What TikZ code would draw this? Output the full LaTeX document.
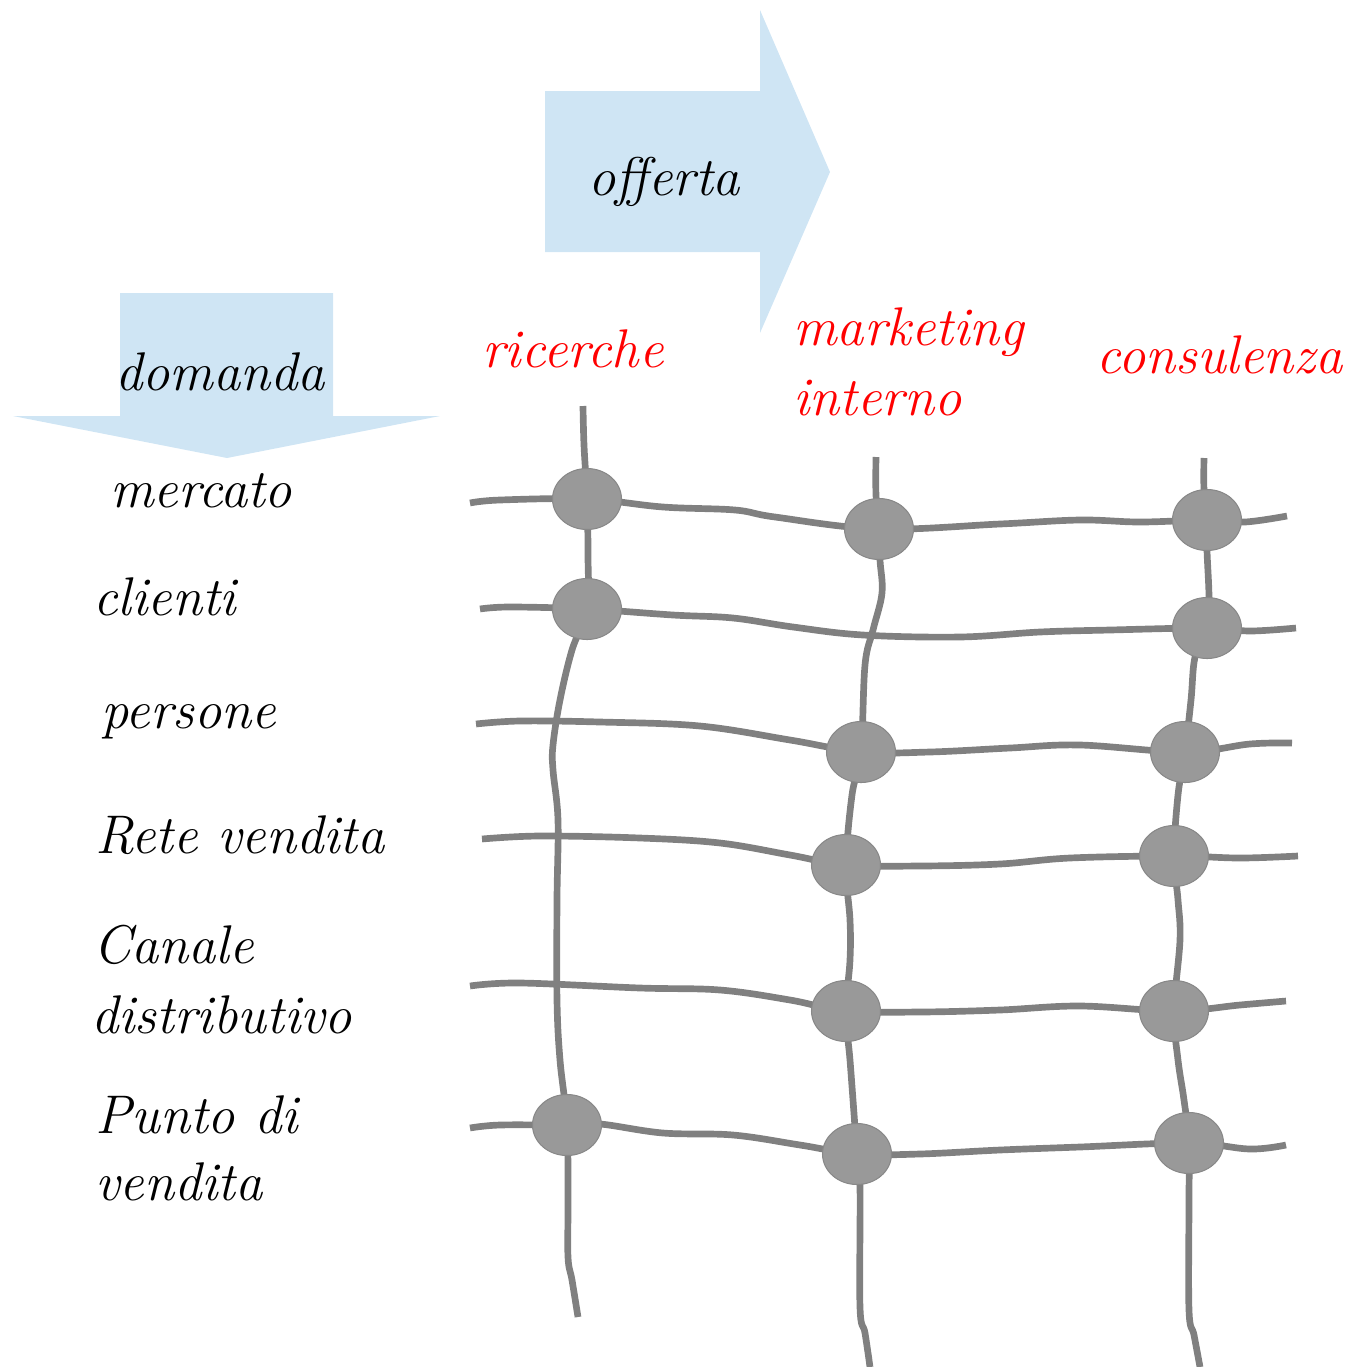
\documentclass[tikz,border=0pt]{standalone}
\usepackage{xcolor}
\usepackage{tikz}
\usetikzlibrary{shapes.geometric,backgrounds}
\definecolor{paleblue}{HTML}{CFE5F4}
\definecolor{wiregray}{HTML}{808080}
\definecolor{knotgray}{HTML}{999999}
\definecolor{knotrim}{HTML}{888888}

\begin{document}
\begin{tikzpicture}[x=0.02cm,y=-0.02cm,
  hand/.style={font=\fontsize{31}{37}\selectfont\itshape,inner sep=0pt,anchor=base west},
  colhead/.style={hand,text=red},
  wire/.style={draw=wiregray,line width=3.8pt},
  knot/.style={ellipse,fill=knotgray,draw=knotrim,line width=0.6pt,
    minimum width=1.38cm,minimum height=1.22cm,inner sep=0pt}]
\useasboundingbox (0,0) rectangle (1357,1367);
% the two big arrows
\fill[paleblue] (545,91)--(760,91)--(760,10)--(830,172)--(760,333)--(760,252)--(545,252)--cycle;
\fill[paleblue] (120,293)--(333,293)--(333,416)--(440,416)--(227,458)--(13,416)--(120,416)--cycle;
\node[hand] (offerta) at (588,195) {offerta};
\node[hand] (domanda) at (115,390) {domanda};
% column heads
\node[colhead] (ricerche) at (482,367) {ricerche};
\node[colhead] (marketing) at (793,345) {marketing};
\node[colhead] (interno) at (793,415) {interno};
\node[colhead] (consulenza) at (1096,373) {consulenza};
% row labels
\node[hand] (mercato) at (110,507) {mercato};
\node[hand] (clienti) at (93,615) {clienti};
\node[hand] (persone) at (101,728) {persone};
\node[hand] (rete) at (95,853) {Rete vendita};
\node[hand] (canale) at (93,963) {Canale};
\node[hand] (distrib) at (91,1033) {distributivo};
\node[hand] (punto) at (95,1133) {Punto di};
\node[hand] (vendita) at (95,1200) {vendita};
% knots
\node[knot] (r1) at (587,499) {};
\node[knot] (r2) at (587,609) {};
\node[knot] (r6) at (567,1125) {};
\node[knot] (m1) at (879,529) {};
\node[knot] (m3) at (861,752) {};
\node[knot] (m4) at (846,865) {};
\node[knot] (m5) at (846,1011) {};
\node[knot] (m6) at (857,1154) {};
\node[knot] (c1) at (1207,520) {};
\node[knot] (c2) at (1207,628) {};
\node[knot] (c3) at (1185,752) {};
\node[knot] (c4) at (1174,856) {};
\node[knot] (c5) at (1174,1011) {};
\node[knot] (c6) at (1189,1143) {};
% free ends
\coordinate (h1w) at (470,503); \coordinate (h1e) at (1287,516);
\coordinate (h2w) at (480,609); \coordinate (h2e) at (1296,628);
\coordinate (h3w) at (476,724); \coordinate (h3e) at (1292,743);
\coordinate (h4w) at (482,839); \coordinate (h4e) at (1298,856);
\coordinate (h5w) at (470,986); \coordinate (h5e) at (1286,1001);
\coordinate (h6w) at (470,1128); \coordinate (h6e) at (1286,1145);
\coordinate (rt) at (583,406); \coordinate (rb) at (578,1317);
\coordinate (mt) at (876,457); \coordinate (mb) at (870,1367);
\coordinate (ct) at (1204,458); \coordinate (cb) at (1200,1367);
% wavy grid behind the knots
\begin{scope}[on background layer]
\draw[wire] plot[smooth,tension=0.6] coordinates {(h1w) (500,500) (r1.center) (663,507) (735,510) (775,517) (m1.center) (1000,524) (1080,520) (1140,522) (c1.center) (1245,522) (h1e)};
\draw[wire] plot[smooth,tension=0.6] coordinates {(h2w) (510,607) (r2.center) (673,615) (733,618) (793,627) (863,635) (960,637) (1040,632) (1110,630) (c2.center) (1250,631) (h2e)};
\draw[wire] plot[smooth,tension=0.6] coordinates {(h3w) (520,721) (600,722) (700,726) (790,740) (m3.center) (930,752) (1010,748) (1080,745) (c3.center) (1250,744) (h3e)};
\draw[wire] plot[smooth,tension=0.6] coordinates {(h4w) (540,836) (640,838) (720,843) (790,855) (m4.center) (920,866) (1000,864) (1070,858) (c4.center) (1240,858) (h4e)};
\draw[wire] plot[smooth,tension=0.6] coordinates {(h5w) (520,983) (640,988) (720,990) (790,1000) (m5.center) (920,1012) (1000,1010) (1080,1006) (c5.center) (1240,1005) (h5e)};
\draw[wire] plot[smooth,tension=0.6] coordinates {(h6w) (500,1125) (r6.center) (600,1124) (663,1133) (733,1135) (800,1145) (m6.center) (920,1154) (1000,1150) (1080,1147) (c6.center) (1250,1149) (h6e)};
\draw[wire] plot[smooth,tension=0.6] coordinates {(rt) (584,445) (r1.center) (588,555) (r2.center) (572,650) (560,700) (553,745) (553,770) (558,820) (557,900) (557,1000) (560,1060) (r6.center) (568,1200) (568,1257) (572,1280) (rb)};
\draw[wire] plot[smooth,tension=0.6] coordinates {(mt) (876,495) (m1.center) (880,560) (882,593) (873,630) (865,665) (m3.center) (852,795) (m4.center) (850,920) (850,960) (m5.center) (850,1060) (853,1100) (m6.center) (860,1187) (860,1307) (865,1333) (mb)};
\draw[wire] plot[smooth,tension=0.6] coordinates {(ct) (1204,490) (c1.center) (1207,550) (1209,598) (c2.center) (1195,657) (1191,700) (c3.center) (1178,795) (c4.center) (1178,900) (1180,940) (c5.center) (1178,1060) (1184,1100) (c6.center) (1189,1200) (1189,1310) (1194,1335) (cb)};
\end{scope}
\end{tikzpicture}
\end{document}
